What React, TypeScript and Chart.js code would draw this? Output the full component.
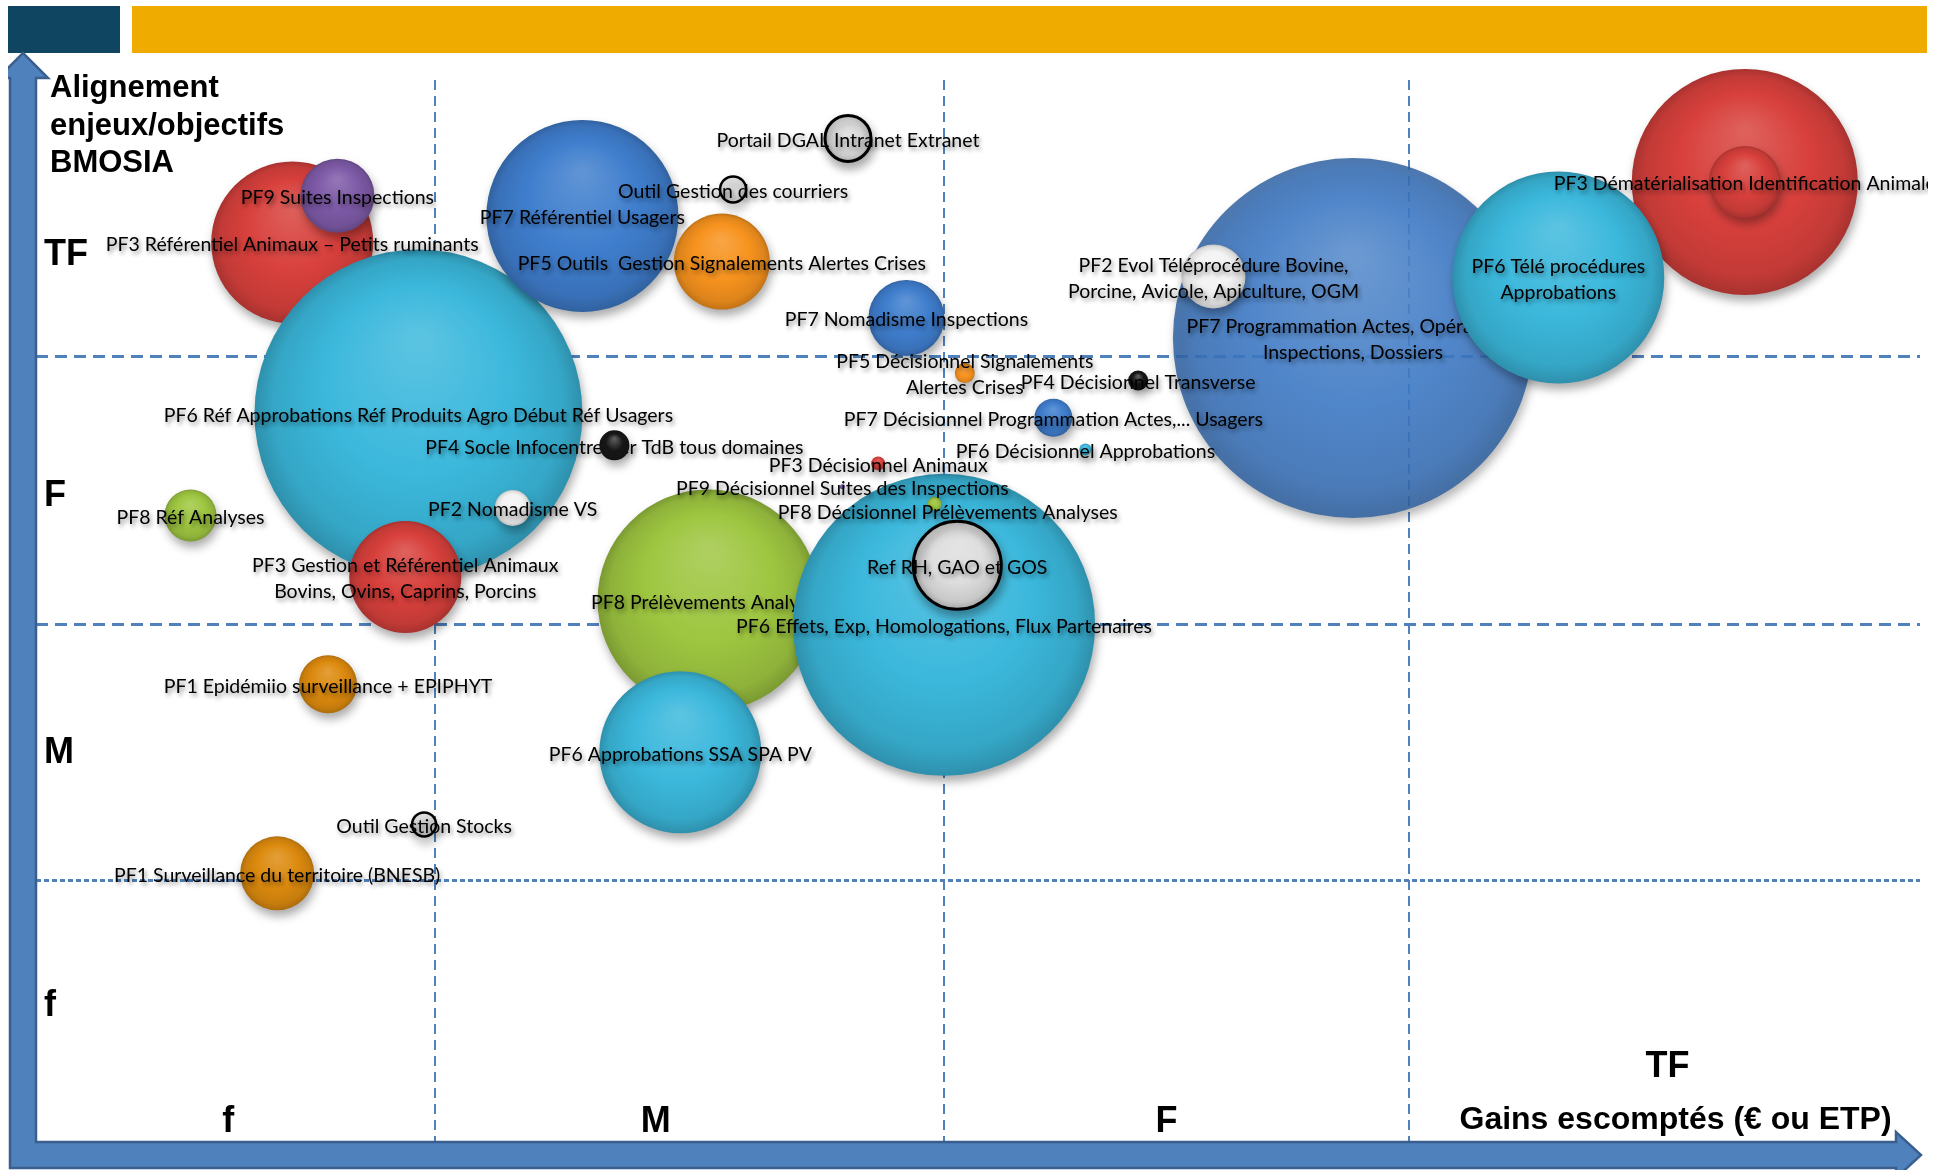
import React, { useEffect, useRef } from 'react';
import { Chart, registerables } from 'chart.js';

Chart.register(...registerables);

// ---------------- data ----------------
const bubbleNames: string[] = [
  'PF3 Référentiel Animaux – Petits ruminants',
  'PF9 Suites Inspections',
  'PF6 Réf Approbations Réf Produits Agro Début Réf Usagers',
  'PF7 Référentiel Usagers',
  'PF5 Outils  Gestion Signalements Alertes Crises',
  'Outil Gestion des courriers',
  'Portail DGAL Intranet Extranet',
  'PF4 Socle Infocentre 1er TdB tous domaines',
  'PF2 Nomadisme VS',
  'PF3 Gestion et Référentiel Animaux\nBovins, Ovins, Caprins, Porcins',
  'PF8 Réf Analyses',
  'PF1 Epidémiio surveillance + EPIPHYT',
  'Outil Gestion Stocks',
  'PF1 Surveillance du territoire (BNESB)',
  'PF8 Prélèvements Analyses',
  'PF6 Approbations SSA SPA PV',
  'PF6 Effets, Exp, Homologations, Flux Partenaires',
  'Ref RH, GAO et GOS',
  'PF3 Décisionnel Animaux',
  'PF9 Décisionnel Suites des Inspections',
  'PF8 Décisionnel Prélèvements Analyses',
  'PF7 Nomadisme Inspections',
  'PF5 Décisionnel Signalements\nAlertes Crises',
  'PF4 Décisionnel Transverse',
  'PF7 Décisionnel Programmation Actes,... Usagers',
  'PF6 Décisionnel Approbations',
  'PF7 Programmation Actes, Opérations,\nInspections, Dossiers',
  'PF2 Evol Téléprocédure Bovine,\nPorcine, Avicole, Apiculture, OGM',
  'PF3 Dématérialisation Identification Animale',
  'PF6 Télé procédures\nApprobations',
  '',
];

const bubbleGroups: string[] = [
  'PF3', 'PF9', 'PF6', 'PF7', 'PF5', 'Outil', 'Outil', 'PF4', 'PF2', 'PF3',
  'PF8', 'PF1', 'Outil', 'PF1', 'PF8', 'PF6', 'PF6', 'Outil', 'PF3', 'PF9',
  'PF8', 'PF7', 'PF5', 'PF4', 'PF7', 'PF6', 'PF7', 'PF2', 'PF3', 'PF6', 'PF3',
];

// Gains escomptés (x)
const gainScores: number[] = [
  1.36, 1.6, 2.03, 2.9, 3.64, 3.7, 4.31, 3.07, 2.53, 1.96,
  0.82, 1.55, 2.06, 1.28, 3.57, 3.42, 4.82, 4.89, 4.47, 4.28,
  4.77, 4.62, 4.93, 5.85, 5.4, 5.57, 6.99, 6.25, 9.07, 8.08, 9.07,
];

// Alignement enjeux/objectifs (y)
const alignmentScores: number[] = [
  8.47, 8.91, 6.86, 8.72, 8.29, 8.97, 9.45, 6.56, 5.97, 5.32,
  5.9, 4.31, 2.99, 2.53, 5.1, 3.67, 4.87, 5.43, 6.39, 6.17,
  6.01, 7.76, 7.24, 7.17, 6.82, 6.52, 7.57, 8.15, 9.04, 8.14, 9.04,
];

// bubble radius
const bubbleSizes: number[] = [
  81, 37, 164, 96, 48, 13, 23, 15, 18, 56,
  26, 29, 12, 37, 111, 81, 151, 44, 7, 2.5,
  7, 38, 10, 10, 19, 6, 180, 32, 113, 106, 36,
];

const gainBoundaries: number[] = [2.12, 4.82, 7.29];
const alignmentBoundaries: number[] = [2.46, 4.87, 7.4];

const gainLevelLabels: string[] = ['f', 'M', 'F', 'TF'];
const gainLevelTicks: number[] = [1.02, 3.29, 6.0, 8.66];
const alignmentLevelLabels: string[] = ['f', 'M', 'F', 'TF'];
const alignmentLevelTicks: number[] = [1.28, 3.66, 6.08, 8.35];

const alignmentTitle: string[] = ['Alignement', 'enjeux/objectifs', 'BMOSIA'];
const gainTitle = 'Gains escomptés (€ ou ETP)';

// ---------------- styles ----------------
const groupColors: Record<string, string> = {
  PF1: '#dc8a0e',
  PF2: '#f3f3f3',
  PF3: '#d8403c',
  PF4: '#161616',
  PF5: '#f7931e',
  PF6: '#3bb8dc',
  PF7: '#3f7ecd',
  PF8: '#9ec640',
  PF9: '#7e5aa7',
  Outil: '#dedede',
};

const translucentBubbles = new Set<string>([
  'PF7 Programmation Actes, Opérations,\nInspections, Dossiers',
]);

// label layering: 'after' = drawn right after its own bubble (later bubbles may cover it)
// 'before' = drawn below its own bubble; default = on top of everything
const labelLayer: Record<string, 'after' | 'before'> = {
  'PF7 Programmation Actes, Opérations,\nInspections, Dossiers': 'after',
  'PF8 Prélèvements Analyses': 'after',
  'PF4 Socle Infocentre 1er TdB tous domaines': 'before',
};
const labelShift: Record<string, [number, number]> = {
  'PF8 Décisionnel Prélèvements Analyses': [13, 7],
};

const LABEL_FONT = '19.5px Lato, "Open Sans", sans-serif';
const AXIS_FONT_FAMILY = '"Liberation Sans", Arial, sans-serif';

function hexToRgb(h: string): number[] {
  const n = parseInt(h.slice(1), 16);
  return [(n >> 16) & 255, (n >> 8) & 255, n & 255];
}
function mix(h: string, t: number, a = 1): string {
  const [r, g, b] = hexToRgb(h);
  const tgt = t >= 0 ? 255 : 0;
  const k = Math.abs(t);
  return `rgba(${Math.round(r + (tgt - r) * k)},${Math.round(g + (tgt - g) * k)},${Math.round(
    b + (tgt - b) * k
  )},${a})`;
}

function bubbleFill(base: string, alpha: number) {
  return (c: any) => {
    const chart = c.chart;
    const raw = c.raw;
    if (!raw || !chart.chartArea || !chart.scales.x) return mix(base, 0, alpha);
    const cx = chart.scales.x.getPixelForValue(raw.x);
    const cy = chart.scales.y.getPixelForValue(raw.y);
    const r = Math.max(raw.r, 1);
    const g = chart.ctx.createRadialGradient(cx, cy - r * 0.45, r * 0.05, cx, cy, r);
    const dark = base === '#161616';
    g.addColorStop(0, mix(base, dark ? 0.3 : 0.16, alpha));
    g.addColorStop(0.55, mix(base, 0, alpha));
    g.addColorStop(0.88, mix(base, -0.1, alpha));
    g.addColorStop(1, mix(base, -0.22, alpha));
    return g;
  };
}

function drawLabel(chart: any, i: number) {
  const name = bubbleNames[i];
  if (!name) return;
  const el = chart.getDatasetMeta(i).data[0];
  if (!el) return;
  const [dx, dy] = labelShift[name] || [0, 0];
  const lines = name.split('\n');
  const ctx = chart.ctx;
  ctx.save();
  ctx.font = LABEL_FONT;
  ctx.fillStyle = '#000';
  ctx.textAlign = 'center';
  ctx.textBaseline = 'middle';
  ctx.shadowColor = 'rgba(0,0,0,0.42)';
  ctx.shadowBlur = 4;
  ctx.shadowOffsetX = 2;
  ctx.shadowOffsetY = 3;
  const lh = 26;
  const y0 = el.y + 2 + dy - ((lines.length - 1) * lh) / 2;
  lines.forEach((ln, k) => ctx.fillText(ln, el.x + dx, y0 + k * lh));
  ctx.restore();
}

const labelPlugin = {
  id: 'bubbleLabels',
  beforeDatasetDraw(chart: any, args: any) {
    const i = args.index;
    if (labelLayer[bubbleNames[i]] === 'before') drawLabel(chart, i);
    const ctx = chart.ctx;
    ctx.save();
    ctx.shadowColor = 'rgba(0,0,0,0.33)';
    ctx.shadowBlur = 10;
    ctx.shadowOffsetX = 2;
    ctx.shadowOffsetY = 6;
  },
  afterDatasetDraw(chart: any, args: any) {
    chart.ctx.restore();
    if (labelLayer[bubbleNames[args.index]] === 'after') drawLabel(chart, args.index);
  },
  afterDatasetsDraw(chart: any) {
    bubbleNames.forEach((n, i) => {
      if (!labelLayer[n]) drawLabel(chart, i);
    });
  },
};

const decorPlugin = {
  id: 'decor',
  beforeDraw(chart: any) {
    const ctx = chart.ctx;
    ctx.save();
    ctx.fillStyle = '#ffffff';
    ctx.fillRect(0, 0, chart.width, chart.height);
    ctx.fillStyle = '#0f4561';
    ctx.fillRect(8, 6, 112, 47);
    ctx.fillStyle = '#f0ab00';
    ctx.fillRect(132, 6, 1795, 47);
    ctx.restore();
  },
  afterDraw(chart: any) {
    const ctx = chart.ctx;
    const area = chart.chartArea;
    const xs = chart.scales.x;
    const ys = chart.scales.y;
    // slide edge on the right
    ctx.save();
    ctx.fillStyle = '#ffffff';
    ctx.fillRect(1928, 0, chart.width - 1928, chart.height);
    ctx.restore();
    // arrows
    ctx.save();
    ctx.beginPath();
    ctx.rect(8, 0, chart.width, chart.height);
    ctx.clip();
    ctx.beginPath();
    ctx.moveTo(10, 78);
    ctx.lineTo(-2, 78);
    ctx.lineTo(23, 53);
    ctx.lineTo(48, 78);
    ctx.lineTo(area.left, 78);
    ctx.lineTo(area.left, area.bottom);
    ctx.lineTo(1896, area.bottom);
    ctx.lineTo(1896, area.bottom - 10);
    ctx.lineTo(1921, area.bottom + 13);
    ctx.lineTo(1896, area.bottom + 36);
    ctx.lineTo(1896, area.bottom + 26);
    ctx.lineTo(10, area.bottom + 26);
    ctx.closePath();
    ctx.fillStyle = '#4f81bd';
    ctx.fill();
    ctx.lineWidth = 2.5;
    ctx.strokeStyle = '#3a5f8e';
    ctx.stroke();
    ctx.restore();

    // texts
    ctx.save();
    ctx.fillStyle = '#000';
    ctx.font = `bold 31px ${AXIS_FONT_FAMILY}`;
    ctx.textAlign = 'left';
    ctx.textBaseline = 'alphabetic';
    alignmentTitle.forEach((t, k) => ctx.fillText(t, area.left + 14, 97 + k * 37.5));

    ctx.font = `bold 36px ${AXIS_FONT_FAMILY}`;
    ctx.textBaseline = 'middle';
    alignmentLevelLabels.forEach((t, k) => {
      ctx.fillText(t, area.left + 8, ys.getPixelForValue(alignmentLevelTicks[k]));
    });

    ctx.textAlign = 'center';
    ctx.textBaseline = 'alphabetic';
    const last = gainLevelLabels.length - 1;
    gainLevelLabels.forEach((t, k) => {
      const px = xs.getPixelForValue(gainLevelTicks[k]);
      ctx.fillText(t, px, k === last ? area.bottom - 65 : area.bottom - 10);
    });
    ctx.font = `bold 32px ${AXIS_FONT_FAMILY}`;
    ctx.fillText(gainTitle, xs.getPixelForValue(gainLevelTicks[last]) + 8, area.bottom - 13);
    ctx.restore();
  },
};

export default function App() {
  const ref = useRef<HTMLCanvasElement | null>(null);

  useEffect(() => {
    if (!ref.current) return;
    const n = bubbleNames.length;
    const datasets = bubbleNames.map((name, i) => {
      const group = bubbleGroups[i];
      const base = groupColors[group];
      const alpha = translucentBubbles.has(name) ? 0.86 : 1;
      const isTool = group === 'Outil';
      return {
        label: name || group,
        data: [{ x: gainScores[i], y: alignmentScores[i], r: bubbleSizes[i] }],
        backgroundColor: bubbleFill(base, isTool && bubbleSizes[i] < 20 ? 0.55 : alpha),
        borderColor: isTool ? '#000000' : 'rgba(0,0,0,0)',
        borderWidth: isTool ? (bubbleSizes[i] < 20 ? 2.5 : 3) : 0,
        hoverBorderWidth: isTool ? 3 : 0,
        order: n - i,
        clip: false as any,
      };
    });

    const lowestAlign = alignmentBoundaries[0];

    const chart = new Chart(ref.current, {
      type: 'bubble',
      data: { datasets },
      options: {
        animation: false,
        responsive: false,
        devicePixelRatio: 1,
        events: [],
        layout: { autoPadding: false, padding: { left: 36, right: 17, top: 80, bottom: 28 } },
        plugins: { legend: { display: false }, tooltip: { enabled: false } },
        scales: {
          x: {
            type: 'linear',
            min: 0,
            max: 10,
            afterBuildTicks: (axis: any) => {
              axis.ticks = gainBoundaries.map((v) => ({ value: v }));
            },
            ticks: { display: false },
            grid: { color: '#4f81bd', lineWidth: 2, drawTicks: false },
            border: { display: false, dash: [10, 6] },
          },
          y: {
            type: 'linear',
            min: 0,
            max: 10,
            afterBuildTicks: (axis: any) => {
              axis.ticks = alignmentBoundaries.map((v) => ({ value: v }));
            },
            ticks: { display: false },
            grid: { color: '#4f81bd', lineWidth: 3, drawTicks: false },
            border: {
              display: false,
              dash: (c: any) => (c && c.tick && c.tick.value === lowestAlign ? [5, 3] : [12, 7]),
            },
          },
        },
      } as any,
      plugins: [decorPlugin, labelPlugin],
    });
    return () => chart.destroy();
  }, []);

  return (
    <div style={{ position: 'absolute', left: 0, top: 0, width: 1937, height: 1170, background: '#fff' }}>
      <canvas ref={ref} width={1937} height={1170} style={{ display: 'block' }} />
    </div>
  );
}
